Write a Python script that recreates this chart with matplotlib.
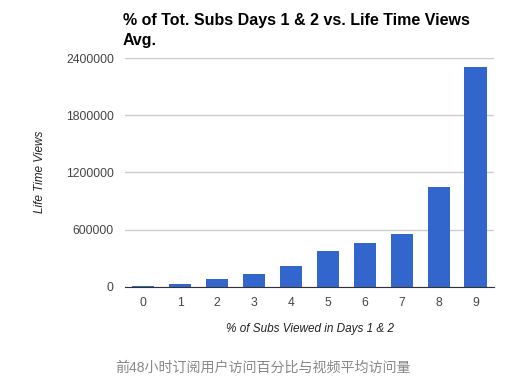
import numpy as np
import matplotlib.pyplot as plt

plt.rcParams['font.family'] = ['Liberation Sans', 'Noto Sans CJK SC', 'DejaVu Sans']

categories = ['0', '1', '2', '3', '4', '5', '6', '7', '8', '9']
views = [14000, 27000, 80000, 130000, 224000, 380000, 463000, 558000, 1052000, 2305000]
yticks = [0, 600000, 1200000, 1800000, 2400000]

fig = plt.figure(figsize=(5.25, 3.82), dpi=100)
ax = fig.add_axes([0.238, 0.249, 0.703, 0.599])

x = np.arange(len(categories))
ax.bar(x, views, width=0.6, color='#3366cc', zorder=3)

ax.set_xlim(-0.5, 9.5)
ax.set_ylim(0, 2400000)
ax.set_yticks(yticks)
ax.set_yticklabels([str(t) for t in yticks])
ax.set_xticks(x)
ax.set_xticklabels(categories)
ax.tick_params(length=0, labelsize=8.7, colors='#444444')
ax.tick_params(axis='x', pad=7)
ax.tick_params(axis='y', pad=8)
ax.yaxis.grid(True, color='#cccccc', linewidth=1)
ax.set_axisbelow(True)
for s in ['top', 'right', 'left']:
    ax.spines[s].set_visible(False)
ax.spines['bottom'].set_color('#333333')
ax.spines['bottom'].set_zorder(4)

fig.text(0.234, 0.965, '% of Tot. Subs Days 1 & 2 vs. Life Time Views\nAvg.',
         fontsize=11.5, fontweight='bold', ha='left', va='top', linespacing=1.35)
fig.text(0.076, 0.55, 'Life Time Views', rotation=90, fontsize=8.5, style='italic',
         ha='center', va='center', color='#222222')
fig.text(0.59, 0.139, '% of Subs Viewed in Days 1 & 2', fontsize=8.5, style='italic',
         ha='center', va='center', color='#222222')
fig.text(0.219, 0.037, '前48小时订阅用户访问百分比与视频平均访问量', fontsize=10.1,
         ha='left', va='center', color='#888888')

fig.savefig('out.png', dpi=100)
